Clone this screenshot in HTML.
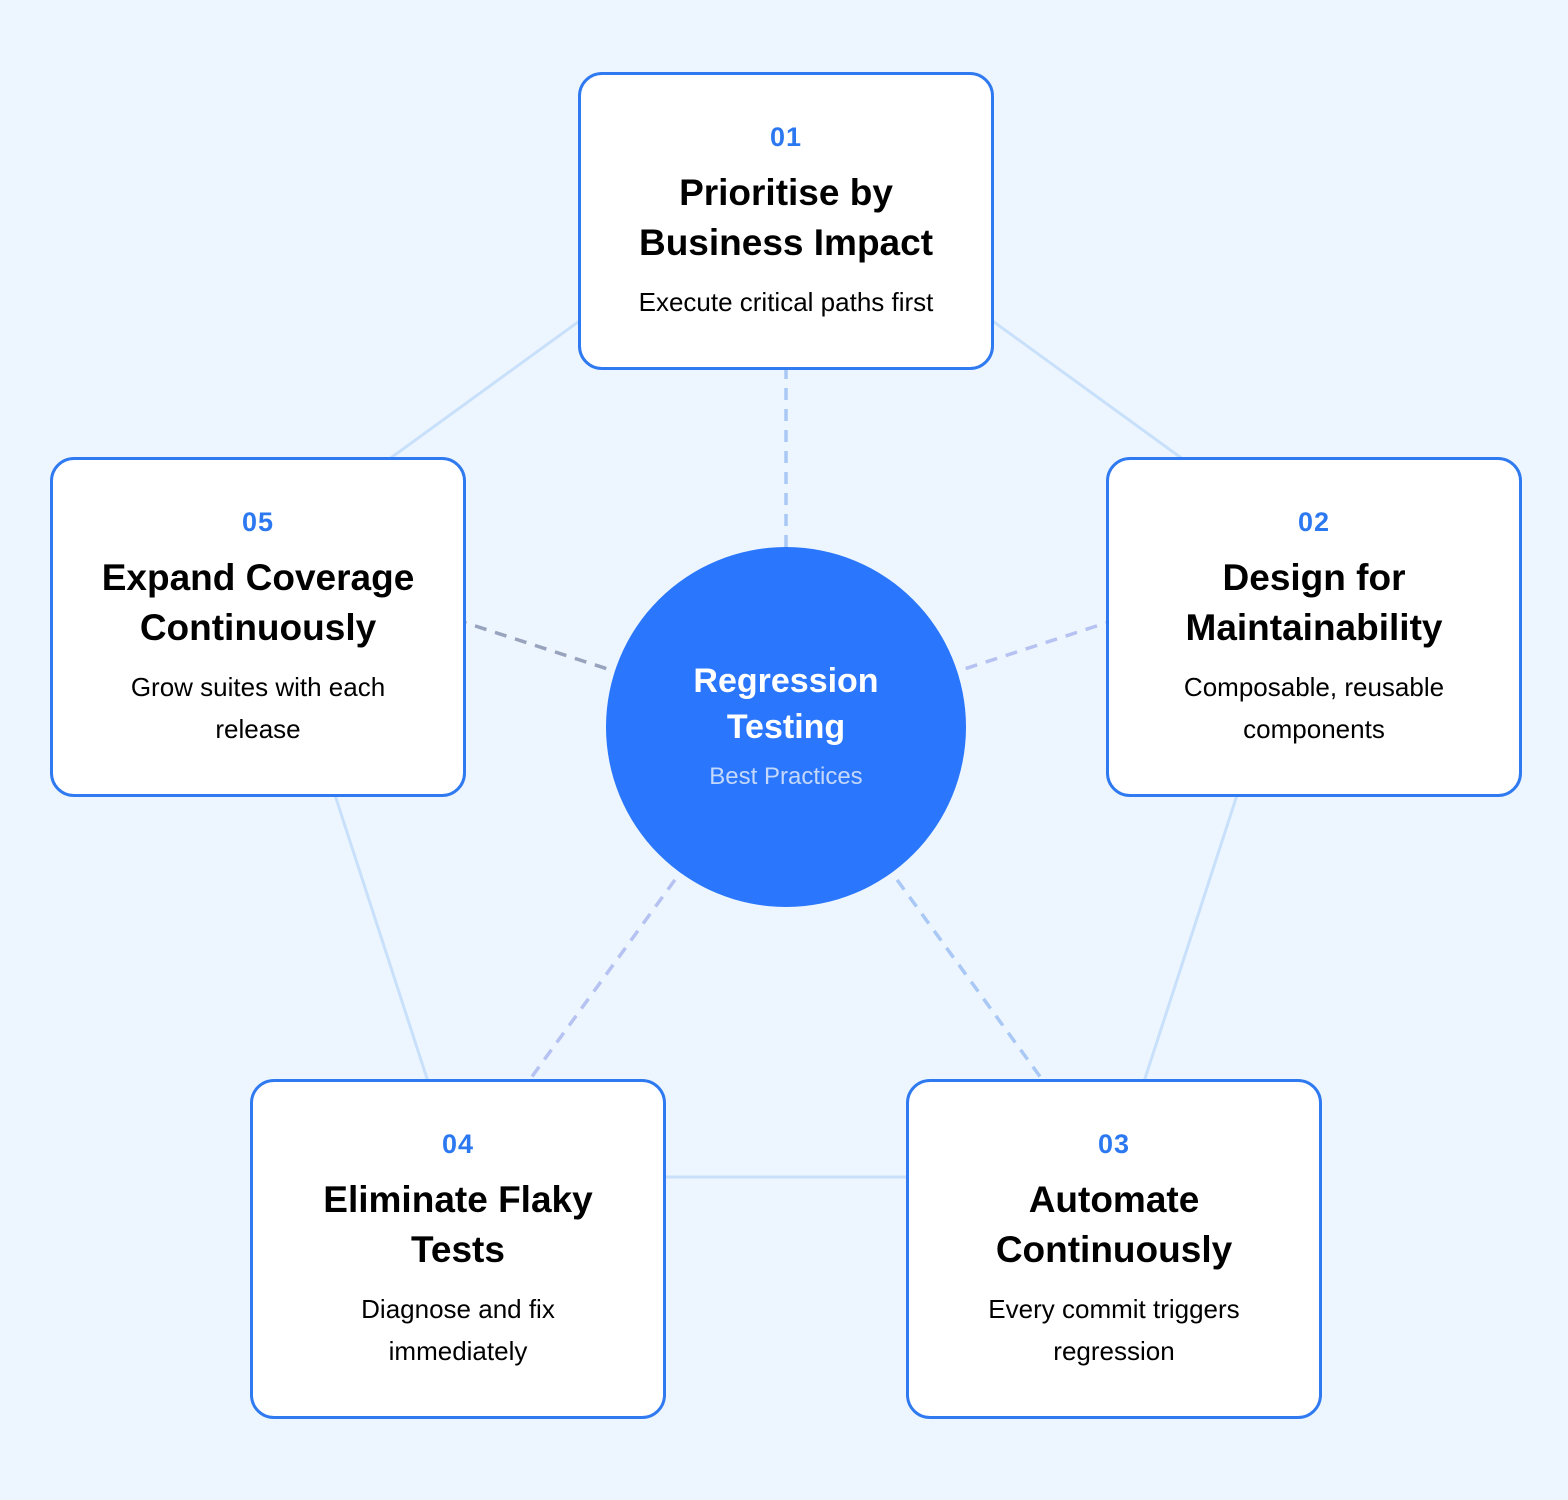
<!DOCTYPE html>
<html><head><meta charset="utf-8"><style>
body{margin:0;width:1568px;height:1500px;background:#edf6fe;font-family:"Liberation Sans",Arial,sans-serif;position:relative;overflow:hidden}
svg{position:absolute;left:0;top:0}
.b{position:absolute;width:410px;height:292px;border:3px solid #2f7af0;border-radius:24px;background:#fff;text-align:center}
.n{position:absolute;left:0;right:0;top:46px;line-height:32px;font-size:27px;font-weight:bold;color:#2b78f0;letter-spacing:1px}
.t{position:absolute;left:0;right:0;top:93px;line-height:50px;font-size:37px;font-weight:bold;color:#000}
.d{position:absolute;left:0;right:0;top:206px;line-height:42px;font-size:26px;color:#000}
.c{position:absolute;left:606px;top:547px;width:360px;height:360px;border-radius:50%;background:#2a76fc;text-align:center;color:#fff}
</style></head><body>
<svg width="1568" height="1500">
<g stroke="#c9e0fb" stroke-width="3" fill="none">
<polygon points="786,171 1315,555 1113,1177 459,1177 257,555"/>
</g>
<g stroke-width="3.5" stroke-dasharray="12,9" fill="none">
<line x1="786" y1="547" x2="786" y2="171" stroke="#a9c8f5"/>
<line x1="786" y1="727" x2="1315" y2="555" stroke="#b6c2f2"/>
<line x1="786" y1="727" x2="1113" y2="1177" stroke="#a9c8f5"/>
<line x1="786" y1="727" x2="459" y2="1177" stroke="#b6c2f2"/>
<line x1="786" y1="727" x2="257" y2="555" stroke="#98a3bd"/>
</g>
</svg>
<div class="b" style="left:578px;top:72px"><div class="n">01</div><div class="t">Prioritise by<br>Business Impact</div><div class="d">Execute critical paths first</div></div>
<div class="b" style="left:1106px;top:457px;height:334px"><div class="n">02</div><div class="t">Design for<br>Maintainability</div><div class="d">Composable, reusable<br>components</div></div>
<div class="b" style="left:906px;top:1079px;height:334px"><div class="n">03</div><div class="t">Automate<br>Continuously</div><div class="d">Every commit triggers<br>regression</div></div>
<div class="b" style="left:250px;top:1079px;height:334px"><div class="n">04</div><div class="t">Eliminate Flaky<br>Tests</div><div class="d">Diagnose and fix<br>immediately</div></div>
<div class="b" style="left:50px;top:457px;height:334px"><div class="n">05</div><div class="t">Expand Coverage<br>Continuously</div><div class="d">Grow suites with each<br>release</div></div>
<div class="c"><div style="position:absolute;left:0;right:0;top:111px;line-height:46px;font-size:34px;font-weight:bold">Regression<br>Testing</div><div style="position:absolute;left:0;right:0;top:215px;line-height:30px;font-size:24px;color:#c4d8fb">Best Practices</div></div>
</body></html>
